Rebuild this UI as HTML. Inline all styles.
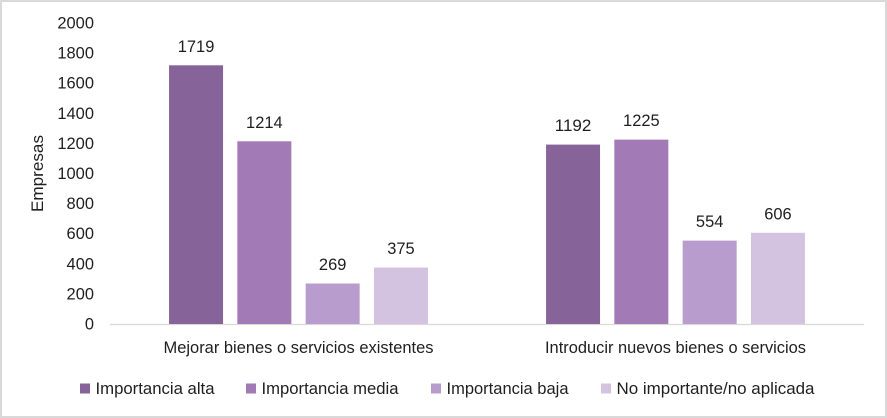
<!DOCTYPE html>
<html lang="es">
<head>
<meta charset="utf-8">
<title>Importancia por objetivo</title>
<style>
html,body{margin:0;padding:0;background:#fff;}
svg{display:block;}
text{font-family:"Liberation Sans",sans-serif;font-size:17px;fill:#1f1f1f;}
</style>
</head>
<body>
<svg id="chart" width="887" height="418" viewBox="0 0 887 418" xmlns="http://www.w3.org/2000/svg">
<rect x="1" y="1" width="885" height="416" fill="#ffffff" stroke="#d9d9d9" stroke-width="2"/>
<text transform="translate(43,173.5) rotate(-90)" text-anchor="middle" textLength="77" lengthAdjust="spacingAndGlyphs">Empresas</text>
<line x1="110" x2="864" y1="324.5" y2="324.5" stroke="#d9d9d9" stroke-width="1.2"/>
</svg>
<script>
const categories = ["Mejorar bienes o servicios existentes", "Introducir nuevos bienes o servicios"];
const seriesNames = ["Importancia alta", "Importancia media", "Importancia baja", "No importante/no aplicada"];
const importanciaAlta = [1719, 1192];
const importanciaMedia = [1214, 1225];
const importanciaBaja = [269, 554];
const noImportante = [375, 606];
const yTicks = [0, 200, 400, 600, 800, 1000, 1200, 1400, 1600, 1800, 2000];

const allSeries = [importanciaAlta, importanciaMedia, importanciaBaja, noImportante];
const colors = ["#86649a", "#a27ab6", "#b99cce", "#d3c3e0"];
const categoryLabelWidths = [270, 261];
const legendSwatchLefts = [80, 246, 431, 601];
const legendLabelWidths = [119, 137, 122, 198];

const svg = document.getElementById("chart");
const NS = "http://www.w3.org/2000/svg";
const plotLeft = 110, plotRight = 864, yZero = 324, yMax = 2000, yPixels = 301;
const barWidth = 54, barStep = 68.3, digitWidth = 9.15;

function yScale(v) { return yZero - (v / yMax) * yPixels; }
function groupCenter(i) { return plotLeft + (plotRight - plotLeft) * (i + 0.5) / categories.length; }
function barLeft(g, s) { return groupCenter(g) + (s - (allSeries.length - 1) / 2) * barStep - barWidth / 2; }
function digitsLength(v) { return String(v).length * digitWidth; }

function makeText(str, x, y, anchor, len) {
  const t = document.createElementNS(NS, "text");
  t.textContent = str;
  t.setAttribute("x", x);
  t.setAttribute("y", y);
  t.setAttribute("text-anchor", anchor);
  t.setAttribute("textLength", len);
  t.setAttribute("lengthAdjust", "spacingAndGlyphs");
  svg.appendChild(t);
  return t;
}

yTicks.forEach(function (tick) {
  const t = makeText(tick, 94, yScale(tick) + 5.5, "end", digitsLength(tick));
  
  
});

categories.forEach(function (cat, g) {
  const c = makeText(cat, groupCenter(g), 353, "middle", categoryLabelWidths[g]);
  
  

  allSeries.forEach(function (values, s) {
    const v = values[g];
    const r = document.createElementNS(NS, "rect");
    r.setAttribute("x", barLeft(g, s));
    r.setAttribute("y", yScale(v));
    r.setAttribute("width", barWidth);
    r.setAttribute("height", yZero - yScale(v));
    r.setAttribute("fill", colors[s]);
    
    
    svg.appendChild(r);

    const label = makeText(v, barLeft(g, s) + barWidth / 2, yScale(v) - 13.5, "middle", digitsLength(v));
    
    
  });
});

seriesNames.forEach(function (name, s) {
  const sw = document.createElementNS(NS, "rect");
  sw.setAttribute("x", legendSwatchLefts[s]);
  sw.setAttribute("y", 383.5);
  sw.setAttribute("width", 10);
  sw.setAttribute("height", 10);
  sw.setAttribute("fill", colors[s]);
  
  
  svg.appendChild(sw);

  const t = makeText(name, legendSwatchLefts[s] + 15.5, 394, "start", legendLabelWidths[s]);
  
  
});
</script>
</body>
</html>
